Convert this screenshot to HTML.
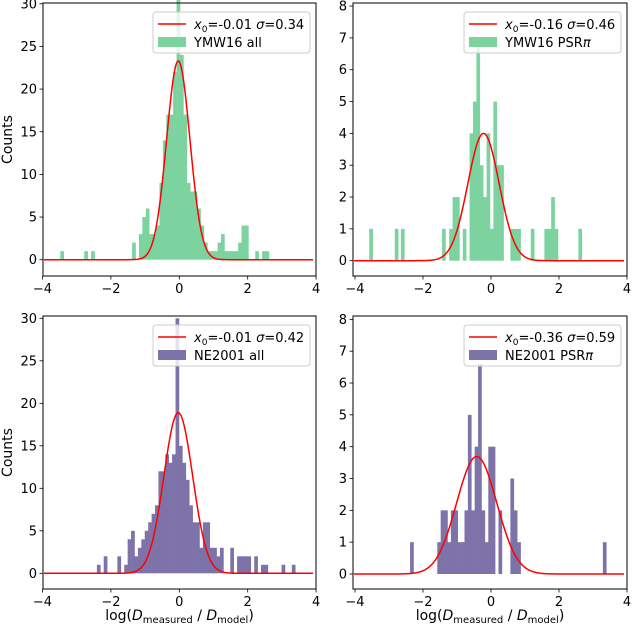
<!DOCTYPE html>
<html><head><meta charset="utf-8"><style>
body{margin:0;background:#fff}
svg{display:block;font-family:"DejaVu Sans","Liberation Sans",sans-serif}
</style></head><body>
<svg id="fig" width="632" height="629" viewBox="0 0 632 629"></svg>
<script>
// ---- data: bin centers and counts per panel (bin width 0.1) ----
const tlCenters=[-3.43,-2.73,-2.53,-1.33,-1.13,-1.03,-0.93,-0.83,-0.73,-0.63,-0.53,-0.43,-0.33,-0.23,-0.13,-0.03,0.07,0.17,0.27,0.37,0.47,0.57,0.67,0.77,0.87,0.97,1.07,1.17,1.27,1.37,1.47,1.57,1.67,1.77,1.87,1.97,2.27,2.47,2.57];
const tlCounts=[1,1,1,2,3,5,6,3,3,4,9,14,17,17,22,31,24,17,9,8,8,6,4,2,1,1,1,2,3,1,1,1,1,2,4,4,1,1,1];
const trCenters=[-3.53,-2.78,-2.60,-1.39,-1.18,-1.08,-0.98,-0.78,-0.58,-0.48,-0.38,-0.28,-0.18,-0.08,0.02,0.12,0.22,0.32,0.62,0.72,0.82,1.22,1.62,1.72,1.82,1.92,2.62];
const trCounts=[1,1,1,1,1,2,2,1,4,5,6.7,3,2,4,1,5,3,3,1,1,1,1,1,1,2,1,1];
const blCenters=[-2.36,-2.16,-1.76,-1.56,-1.46,-1.36,-1.26,-1.16,-1.06,-0.96,-0.86,-0.76,-0.66,-0.56,-0.46,-0.36,-0.26,-0.16,-0.06,0.04,0.14,0.24,0.34,0.44,0.54,0.64,0.74,0.84,0.94,1.04,1.14,1.24,1.54,1.74,1.84,1.94,2.04,2.24,2.44,2.54,3.04,3.34];
const blCounts=[1,2,2,1,4,5,2,3,4,5,6,7,8,12,12,14,13,14,30,15,13,11,8,6,6,3,6,6,3,3,2,3,3,2,2,2,2,2,1,1,1,1];
const brCenters=[-2.33,-1.53,-1.43,-1.33,-1.23,-1.13,-1.03,-0.93,-0.83,-0.73,-0.63,-0.53,-0.43,-0.33,-0.23,-0.13,-0.03,0.07,0.27,0.62,0.72,0.82,3.34];
const brCounts=[1,1,2,2,1,2,2,1,1,2,5,2,4,6.6,2,1,4,4,2,3,2,1,1];
const tlFit=[23.3,-0.03,0.34], trFit=[4.0,-0.22,0.46], blFit=[18.9,-0.03,0.42], brFit=[3.69,-0.42,0.59];
const tlYTicks=[0,5,10,15,20,25,30], trYTicks=[0,1,2,3,4,5,6,7,8];
const xTicks=[-4,-2,0,2,4];
const NS="http://www.w3.org/2000/svg";
const svg=document.getElementById('fig');
function mk(tag,attrs,parent){const e=document.createElementNS(NS,tag);for(const k in attrs)e.setAttribute(k,attrs[k]);(parent||svg).appendChild(e);return e;}
function panel(name,L,R,T,B,x0px,xUnit,y0px,yUnit,centers,counts,color,fit,yTicks,fitLabel,setLabel,showYLabel,showXLabel){
  const g=mk('g',{});
  
  
  const X=v=>x0px+v*xUnit, Y=v=>y0px-v*yUnit;
  const bars=mk('g',{},g);
  
  
  centers.forEach((c,i)=>{
    const r=mk('rect',{x:X(c-0.05),y:Y(counts[i]),width:0.1*xUnit+0.3,height:Y(0)-Y(counts[i]),fill:color},bars);
    
    
  });
  let d='';
  for(let px=L+1;px<=R-3;px+=1){const v=(px-x0px)/xUnit;const y=fit[0]*Math.exp(-0.5*Math.pow((v-fit[1])/fit[2],2));d+=(d?'L':'M')+px+','+Y(y).toFixed(2);}
  const fc=mk('path',{d:d,fill:'none',stroke:'#ff0000','stroke-width':1.5},g);
  
  
  const fr=mk('rect',{x:L,y:T,width:R-L,height:B-T,fill:'none',stroke:'#000','stroke-width':1},g);
  
  
  xTicks.forEach(t=>{const x=X(t);mk('line',{x1:x,x2:x,y1:B,y2:B+3.5,stroke:'#000','stroke-width':0.8},g);
    const tx=mk('text',{x:x,y:B+17,'font-size':13,'text-anchor':'middle'},g);tx.textContent=(t<0?'\u2212'+(-t):t);
    
    });
  yTicks.forEach(t=>{const y=Y(t);mk('line',{x1:L,x2:L-3.5,y1:y,y2:y,stroke:'#000','stroke-width':0.8},g);
    const tx=mk('text',{x:L-6,y:y+4.5,'font-size':13,'text-anchor':'end'},g);tx.textContent=t;
    
    });
  const lg=mk('g',{},g);
  
  
  const lx=R-163, ly=T+9;
  mk('rect',{x:lx,y:ly,width:157,height:41,rx:3,fill:'#fff','fill-opacity':0.8,stroke:'#ccc','stroke-width':1},lg);
  mk('line',{x1:lx+5,x2:lx+33,y1:ly+12,y2:ly+12,stroke:'#ff0000','stroke-width':1.5},lg);
  mk('rect',{x:lx+5,y:ly+25,width:28,height:10,fill:color},lg);
  const t1=mk('text',{x:lx+41,y:ly+17,'font-size':13},lg);
  t1.innerHTML='<tspan font-style="italic">x</tspan><tspan font-size="9" dy="3">0</tspan><tspan dy="-3">='+fitLabel[0]+' </tspan><tspan font-style="italic">σ</tspan><tspan>='+fitLabel[1]+'</tspan>';
  
  
  const t2=mk('text',{x:lx+41,y:ly+35,'font-size':13},lg);
  t2.innerHTML=setLabel;
  
  
  if(showYLabel){const yl=mk('text',{x:0,y:0,'font-size':14,'text-anchor':'middle',transform:'translate(12,'+((T+B)/2)+') rotate(-90)'},g);yl.textContent='Counts';
    
    }
  if(showXLabel){const xl=mk('text',{x:(L+R)/2,y:B+31,'font-size':14,'text-anchor':'middle'},g);
    xl.innerHTML='log(<tspan font-style="italic">D</tspan><tspan font-size="10" dy="3">measured</tspan><tspan dy="-3"> / </tspan><tspan font-style="italic">D</tspan><tspan font-size="10" dy="3">model</tspan><tspan dy="-3">)</tspan>';
    
    }
}
const green='#7dd3a0', purple='#7d73a9';
panel('panel-ymw16-all',43,316,3,276,179.3,34.2,259.7,8.53,tlCenters,tlCounts,green,tlFit,tlYTicks,['-0.01','0.34'],'YMW16 all',true,false);
panel('panel-ymw16-psrpi',353,627,3,276,491,34,260.7,31.83,trCenters,trCounts,green,trFit,trYTicks,['-0.16','0.46'],'YMW16 PSR<tspan font-style="italic">π</tspan>',false,false);
panel('panel-ne2001-all',43,316,316,589,179.3,34.2,573.3,8.5,blCenters,blCounts,purple,blFit,tlYTicks,['-0.01','0.42'],'NE2001 all',true,true);
panel('panel-ne2001-psrpi',353,627,316,589,491,34,574,31.83,brCenters,brCounts,purple,brFit,trYTicks,['-0.36','0.59'],'NE2001 PSR<tspan font-style="italic">π</tspan>',false,true);
</script>
</body></html>
